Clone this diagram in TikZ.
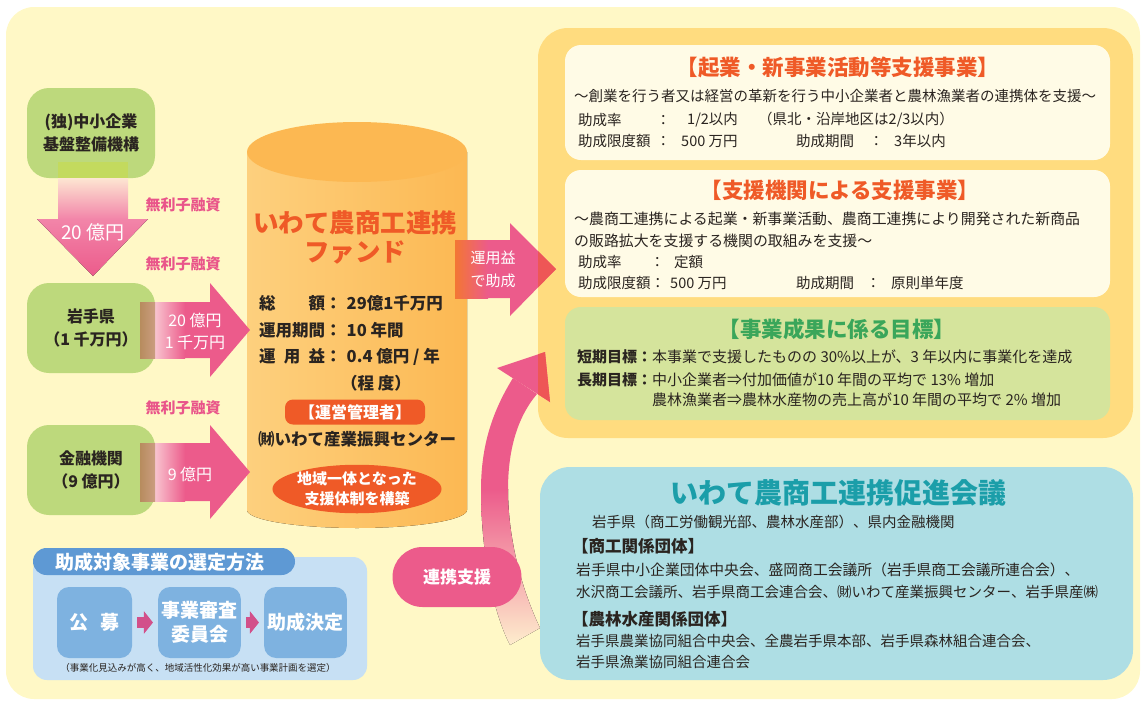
\documentclass[tikz,border=0pt]{standalone}
\usepackage{fontspec}
\setmainfont{Noto Sans CJK JP}
\usepackage{tikz}
\usetikzlibrary{shapes.geometric,arrows.meta}

\definecolor{bgyellow}{HTML}{FFF8C6}
\definecolor{leafgreen}{HTML}{BDD97C}
\definecolor{flowpink}{HTML}{EC5B8B}
\definecolor{palepink}{HTML}{F8C4CF}
\definecolor{peach}{HTML}{FDE6D2}
\definecolor{midpink}{HTML}{F285A9}
\definecolor{textpink}{HTML}{E9558A}
\definecolor{fundorange}{HTML}{FCB852}
\definecolor{fundlight}{HTML}{FDD07E}
\definecolor{redorange}{HTML}{EF5A27}
\definecolor{panelorange}{HTML}{FFDC7F}
\definecolor{cream}{HTML}{FFFBE6}
\definecolor{paleleaf}{HTML}{D5E49C}
\definecolor{goalgreen}{HTML}{3AA65A}
\definecolor{aqua}{HTML}{AEDEE4}
\definecolor{councilteal}{HTML}{1B9EA9}
\definecolor{skyblue}{HTML}{C7E0F4}
\definecolor{headblue}{HTML}{5E99D4}
\definecolor{stepblue}{HTML}{7EB2E0}
\definecolor{steppink}{HTML}{D2508A}
\definecolor{inkdark}{HTML}{2A2420}
\definecolor{overlapred}{HTML}{EE5656}
\definecolor{overlapbrown}{HTML}{B78C5E}
\definecolor{overlapolive}{HTML}{C3DA5E}

\newcommand{\fsz}[2]{\fontsize{#1}{#2}\selectfont}

\begin{document}
\begin{tikzpicture}[x=1pt,y=-1pt,
  greenbox/.style={fill=leafgreen,rounded corners=22pt,minimum width=128pt,minimum height=90pt,align=center,text=inkdark,font=\fsz{16}{23}\bfseries},
  loanlabel/.style={text=textpink,font=\fsz{15}{18}\bfseries},
  arrowtext/.style={text=white,align=center,font=\fsz{16}{22}},
  fundtext/.style={anchor=west,inner sep=0pt,text=inkdark,font=\fsz{16.5}{20}\bfseries},
  boxtitle/.style={text=redorange,inner sep=0pt,font=\fsz{21.5}{24}\bfseries},
  body/.style={anchor=west,inner sep=0pt,text=inkdark,font=\fsz{14.5}{18}},
  goalkey/.style={anchor=west,inner sep=0pt,text=inkdark,font=\fsz{15}{18}\bfseries},
  goaltext/.style={anchor=west,inner sep=0pt,text=inkdark,font=\fsz{15}{18}},
  grouphead/.style={anchor=west,inner sep=0pt,text=inkdark,font=\fsz{16.5}{20}\bfseries},
  stepbox/.style={fill=stepblue,rounded corners=12pt,minimum width=75pt,minimum height=71pt,align=center,text=white,font=\fsz{19}{24}\bfseries},
  steparrow/.style={draw=steppink,line width=11pt,-{Triangle[length=9pt,width=22pt]}}
]
\useasboundingbox (0,0) rectangle (1144,702);

%Background
\fill[bgyellow,rounded corners=28pt] (6,7) rectangle (1140,699);

%Support programmes
\fill[panelorange,rounded corners=30pt] (538,28) rectangle (1133,438);
\fill[cream,rounded corners=16pt] (565,45) rectangle (1110,160);
\fill[cream,rounded corners=16pt] (565,170) rectangle (1110,297);
\fill[paleleaf,rounded corners=16pt] (565,307) rectangle (1110,420);

\node[boxtitle] (startupTitle) at (838,67) {【起業・新事業活動等支援事業】};
\node[body] (startupAim) at (574,96) {～創業を行う者又は経営の革新を行う中小企業者と農林漁業者の連携体を支援～};
\node[body] (startupRateKey) at (578,120) {助成率};
\node[body] (startupRateColon) at (656,120) {：};
\node[body] (startupRate) at (687,120) {1/2以内};
\node[body] (startupRateNote) at (758,120) {（県北・沿岸地区は2/3以内）};
\node[body] (startupCapKey) at (578,141) {助成限度額};
\node[body] (startupCapColon) at (656,141) {：};
\node[body] (startupCap) at (681,141) {500 万円};
\node[body] (startupTermKey) at (796,141) {助成期間};
\node[body] (startupTermColon) at (869,141) {：};
\node[body] (startupTerm) at (894,141) {3年以内};

\node[boxtitle] (agencyTitle) at (840,190) {【支援機関による支援事業】};
\node[body,font=\fsz{14.9}{18}] (agencyAim) at (574,219) {～農商工連携による起業・新事業活動、農商工連携により開発された新商品};
\node[body,font=\fsz{14.9}{18}] (agencyAim2) at (574,241) {の販路拡大を支援する機関の取組みを支援～};
\node[body] (agencyRateKey) at (578,262) {助成率};
\node[body] (agencyRateColon) at (650,262) {：};
\node[body] (agencyRate) at (674,262) {定額};
\node[body] (agencyCapKey) at (578,283) {助成限度額：};
\node[body] (agencyCap) at (670,283) {500 万円};
\node[body] (agencyTermKey) at (796,283) {助成期間};
\node[body] (agencyTermColon) at (866,283) {：};
\node[body] (agencyTerm) at (891,283) {原則単年度};

\node[boxtitle,text=goalgreen] (goalTitle) at (837,329) {【事業成果に係る目標】};
\node[goalkey] (shortKey) at (577,357) {短期目標：};
\node[goaltext] (shortGoal) at (652,357) {本事業で支援したものの 30\%以上が、3 年以内に事業化を達成};
\node[goalkey] (longKey) at (577,380) {長期目標：};
\node[goaltext] (longGoal) at (652,380) {中小企業者⇒付加価値が10 年間の平均で 13\% 増加};
\node[goaltext] (longGoal2) at (652,400) {農林漁業者⇒農林水産物の売上高が10 年間の平均で 2\% 増加};

%Cooperation arrow
\fill[flowpink] (513,378) .. controls (490,415) and (481,450) .. (481,490) -- (508,490) .. controls (508,455) and (515,420) .. (537,394) -- cycle;
\fill[top color=flowpink,bottom color=peach!60!bgyellow] (481,489) .. controls (481,550) and (492,610) .. (510,645) -- (540,628) .. controls (522,590) and (508,540) .. (508,489) -- cycle;
\fill[flowpink] (497,368) -- (545,352) -- (550,402) -- cycle;
\begin{scope}
  \clip[rounded corners=30pt] (538,28) rectangle (1133,438);
  \fill[overlapred] (497,368) -- (545,352) -- (550,402) -- cycle;
\end{scope}

%Council
\fill[aqua,rounded corners=30pt] (540,467) rectangle (1133,680);
\node[inner sep=0pt,text=councilteal,font=\fsz{28}{32}\bfseries] (councilTitle) at (838,493) {いわて農商工連携促進会議};
\node[body] (members) at (592,522) {岩手県（商工労働観光部、農林水産部）、県内金融機関};
\node[grouphead] (commerceHead) at (572,546) {【商工関係団体】};
\node[body,font=\fsz{14.8}{18}] (commerce1) at (576,570) {岩手県中小企業団体中央会、盛岡商工会議所（岩手県商工会議所連合会）、};
\node[body] (commerce2) at (576,592) {水沢商工会議所、岩手県商工会連合会、㈶いわて産業振興センター、岩手県産㈱};
\node[grouphead] (farmHead) at (572,619) {【農林水産関係団体】};
\node[body] (farm1) at (576,641) {岩手県農業協同組合中央会、全農岩手県本部、岩手県森林組合連合会、};
\node[body] (farm2) at (576,662) {岩手県漁業協同組合連合会};

\node[fill=flowpink,rounded corners=30pt,minimum width=129pt,minimum height=60pt,text=white,font=\fsz{17}{20}\bfseries] (linkSupport) at (457,577) {連携支援};

%Fund cylinder
\fill[left color=fundlight,right color=fundorange] (247,152) -- (247,510) arc[start angle=180,end angle=360,x radius=110pt,y radius=18pt] -- (467,152) -- cycle;
\fill[fundorange] (357,152) ellipse[x radius=110pt,y radius=30pt];

\node[inner sep=0pt,text=redorange,align=center,font=\fsz{25.5}{29}\bfseries] (fundName) at (355,237) {いわて農商工連携\\ファンド};
\node[fundtext] (totalKey) at (259,303) {\makebox[66pt][l]{総\hfill 額}：\hspace{5pt}29億1千万円};
\node[fundtext] (termKey) at (259,330) {運用期間：\hspace{5pt}10 年間};
\node[fundtext] (gainKey) at (259,357) {\makebox[66pt][l]{運\hfill 用\hfill 益}：\hspace{5pt}0.4 億円 / 年};
\node[fundtext,anchor=center] (gainNote) at (376,383) {（程 度）};
\node[fill=redorange,rounded corners=8pt,minimum width=140pt,minimum height=25pt,inner sep=0pt,text=white,font=\fsz{16}{18}\bfseries] (manager) at (355,412) {【運営管理者】};
\node[inner sep=0pt,text=inkdark,font=\fsz{16.5}{20}\bfseries] (managerName) at (357,439) {㈶いわて産業振興センター};
\node[ellipse,fill=redorange,minimum width=168pt,minimum height=48pt,inner sep=0pt,align=center,text=white,font=\fsz{15}{20}\bfseries] (region) at (357,489) {地域一体となった\\支援体制を構築};

%Grant arrow
\fill[flowpink] (455,240) -- (510,240) -- (510,223) -- (556,269) -- (510,316) -- (510,298) -- (455,298) -- cycle;
\fill[left color=redorange!70!fundorange,right color=flowpink] (455,240) rectangle (488,298);
\begin{scope}
  \clip[rounded corners=30pt] (538,28) rectangle (1133,438);
  \fill[overlapred] (510,223) -- (556,269) -- (510,316) -- cycle;
\end{scope}
\node[arrowtext,font=\fsz{15}{23}] (grant) at (493,269) {運用益\\で助成};

%Investors
\node[greenbox] (smrj) at (91,133) {(独)中小企業\\基盤整備機構};
\node[greenbox] (iwate) at (91,328) {岩手県\\（1 千万円）};
\node[greenbox] (banks) at (91,470) {金融機関\\（9 億円）};

\fill[top color=peach,bottom color=midpink] (58,178) rectangle (128,219);
\fill[top color=midpink,bottom color=flowpink] (37,219) -- (148,219) -- (93,276) -- cycle;
\fill[overlapolive] (58,162) rectangle (128,178);
\node[arrowtext,font=\fsz{19}{22}] (loanA) at (93,232) {20 億円};

\fill[flowpink] (155,302) -- (210,302) -- (210,283) -- (250,330) -- (210,377) -- (210,358) -- (155,358) -- cycle;
\fill[left color=palepink,right color=flowpink] (155,302) rectangle (185,358);
\fill[left color=overlapbrown,right color=overlapbrown!70!palepink] (140,302) rectangle (155,358);
\node[arrowtext] (loanB) at (195,331) {20 億円\\1 千万円};

\fill[flowpink] (155,443) -- (210,443) -- (210,425) -- (250,472) -- (210,519) -- (210,501) -- (155,501) -- cycle;
\fill[left color=palepink,right color=flowpink] (155,443) rectangle (185,501);
\fill[left color=overlapbrown,right color=overlapbrown!70!palepink] (140,443) rectangle (155,501);
\node[arrowtext] (loanC) at (190,474) {9 億円};

\node[loanlabel] (freeA) at (183,205) {無利子融資};
\node[loanlabel] (freeB) at (183,264) {無利子融資};
\node[loanlabel] (freeC) at (183,408) {無利子融資};

%Selection method
\fill[skyblue,rounded corners=14pt] (33,557) rectangle (367,680);
\fill[headblue,rounded corners=13.5pt] (33,548) rectangle (295,575);
\node[inner sep=0pt,text=white,font=\fsz{19}{22}\bfseries] (methodTitle) at (160,562) {助成対象事業の選定方法};
\node[stepbox] (koubo) at (94.5,622.5) {公\hspace{12pt}募};
\node[stepbox] (review) at (199.5,622.5) {事業審査\\委員会};
\node[stepbox] (decision) at (305.5,622.5) {助成決定};
\draw[steparrow] ([xshift=5pt]koubo.east) -- ([xshift=-5pt]review.west);
\draw[steparrow] ([xshift=5pt]review.east) -- ([xshift=-5pt]decision.west);
\node[inner sep=0pt,text=inkdark,font=\fsz{9.5}{11}] (methodNote) at (198,668) {（事業化見込みが高く、地域活性化効果が高い事業計画を選定）};
\end{tikzpicture}
\end{document}
